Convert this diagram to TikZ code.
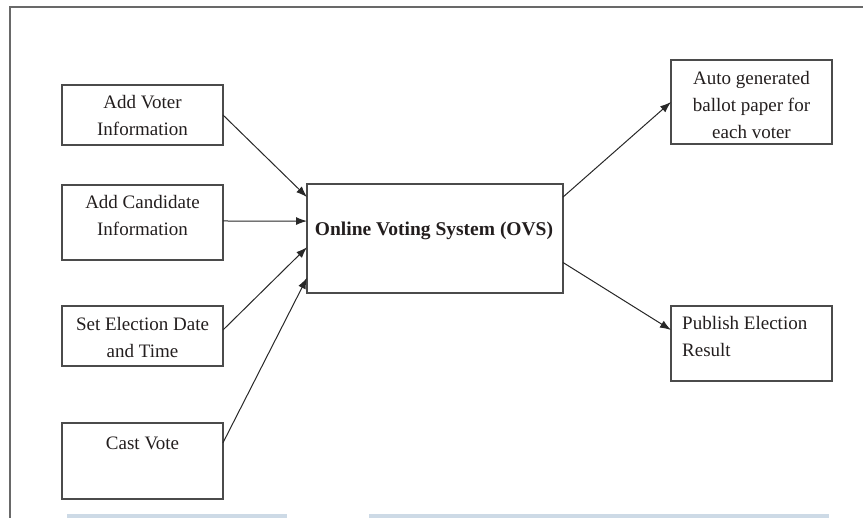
\documentclass[tikz,border=0pt]{standalone}
\usepackage{fontspec}
\setmainfont{Liberation Serif}
\usetikzlibrary{arrows.meta,calc}
\definecolor{framegray}{RGB}{105,105,105}
\definecolor{boxgray}{RGB}{75,75,75}
\definecolor{linegray}{RGB}{40,40,40}
\definecolor{barblue}{RGB}{205,218,230}
\definecolor{txtcol}{RGB}{35,30,30}
\begin{document}
\begin{tikzpicture}[x=1pt,y=-1pt,
  box/.style={draw=boxgray, line width=1.3pt, inner sep=0pt, outer sep=0pt, rectangle},
  txt/.style={text=txtcol, align=center, inner sep=0pt, font=\fontsize{19}{27}\selectfont},
  conn/.style={draw=linegray, line width=1pt, -{Latex[length=11pt,width=8pt]}}]
\useasboundingbox (0,0) rectangle (863,518);
% frame
\draw[framegray, line width=1.8pt] (10,518) -- (10,7) -- (863,7);
\fill[barblue] (67,514) rectangle (287,518);
\fill[barblue] (369,514) rectangle (829,518);
% left boxes
\node[box, minimum width=161pt, minimum height=60pt] (av) at (142.5,115) {};
\node[box, minimum width=161pt, minimum height=75pt] (ac) at (142.5,222.5) {};
\node[box, minimum width=161pt, minimum height=60pt] (se) at (142.5,336) {};
\node[box, minimum width=161pt, minimum height=76pt] (cv) at (142.5,461) {};
% centre
\node[box, minimum width=256pt, minimum height=109pt] (ovs) at (435,238.5) {};
% right boxes
\node[box, minimum width=161pt, minimum height=84pt] (ab) at (751.5,102) {};
\node[box, minimum width=161pt, minimum height=75pt] (pe) at (751.5,343.5) {};
% texts
\node[txt] (avt) at (142.5,116) {Add Voter\\Information};
\node[txt] (act) at (142.5,216) {Add Candidate\\Information};
\node[txt] (set) at (142.5,338) {Set Election Date\\and Time};
\node[txt] (cvt) at (142.5,443) {Cast Vote};
\node[txt, font=\fontsize{19.5}{27}\selectfont\bfseries] (ovst) at (434,231) {Online Voting System (OVS)};
\node[txt] (abt) at (751.5,105) {Auto generated\\ballot paper for\\each voter};
\node[txt, align=left, anchor=west] (pet) at (682,337) {Publish Election\\Result};
% connectors
\draw[conn] (av.east) -- ($(ovs.north west)!0.12!(ovs.south west)$);
\draw[conn] ($(ac.north east)!0.48!(ac.south east)$) -- ($(ovs.north west)!0.34!(ovs.south west)$);
\draw[conn] ($(se.north east)!0.4!(se.south east)$) -- ($(ovs.north west)!0.58!(ovs.south west)$);
\draw[conn] ($(cv.north east)!0.26!(cv.south east)$) -- ($(ovs.north west)!0.86!(ovs.south west)$);
\draw[conn] ($(ovs.north east)!0.12!(ovs.south east)$) -- (ab.west);
\draw[conn] ($(ovs.north east)!0.72!(ovs.south east)$) -- ($(pe.north west)!0.32!(pe.south west)$);
\end{tikzpicture}
\end{document}
